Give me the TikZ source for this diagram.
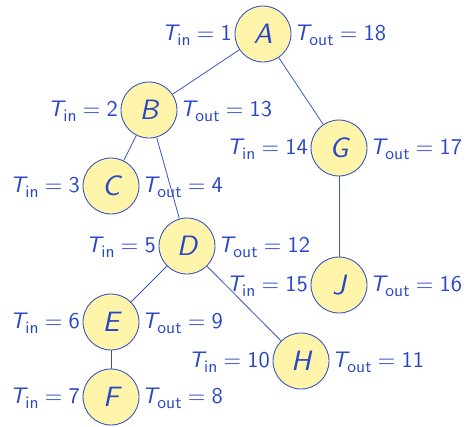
\documentclass[tikz,border=0pt]{standalone}
\usepackage{fontspec}
\setsansfont{lmsans10-regular.otf}[ItalicFont=lmsans10-oblique.otf]
\definecolor{txtblue}{RGB}{40,70,200}
\definecolor{nodefill}{RGB}{255,245,170}
\definecolor{nodeborder}{RGB}{55,85,195}
\definecolor{lineblue}{RGB}{55,85,195}
\newcommand{\subtxt}[1]{\raisebox{-0.22em}{\fontsize{17.5}{17.5}\selectfont #1}}
\newcommand{\tinlbl}[1]{{\itshape T}\subtxt{in}\hspace{.2778em}=\hspace{.2778em}#1}
\newcommand{\toutlbl}[1]{{\itshape T}\subtxt{out}\hspace{.2778em}=\hspace{.2778em}#1}
\begin{document}
\begin{tikzpicture}[x=1pt,y=-1pt,
  vert/.style={circle, draw=nodeborder, fill=nodefill, line width=0.9pt, minimum size=56pt, inner sep=0pt,
    font=\fontsize{28}{28}\selectfont\sffamily\itshape, text=txtblue},
  lbl/.style={font=\fontsize{22.5}{26}\selectfont\sffamily, text=txtblue, inner sep=2.5pt},
  edge/.style={draw=lineblue, line width=0.8pt}]
\useasboundingbox (0,0) rectangle (468,426);
\node[vert] (A) at (263,34) {A};
\node[vert] (B) at (149,110) {B};
\node[vert] (C) at (111,186) {C};
\node[vert] (G) at (339,148) {G};
\node[vert] (D) at (187,246) {D};
\node[vert] (J) at (339,285) {J};
\node[vert] (E) at (111,322) {E};
\node[vert] (H) at (301,361) {H};
\node[vert] (F) at (111,397) {F};
\foreach \n/\i/\o in {A/1/18, B/2/13, C/3/4, G/14/17, D/5/12, J/15/16, E/6/9, H/10/11, F/7/8}{
  \node[lbl, anchor=base east] (\n in) at ([yshift=-6.5pt]\n.west) {\tinlbl{\i}};
  \node[lbl, anchor=base west] (\n out) at ([yshift=-6.5pt]\n.east) {\toutlbl{\o}};
}
\draw[edge] (A) -- (B);
\draw[edge] (A) -- (G);
\draw[edge] (B) -- (C);
\draw[edge] (B) -- (D);
\draw[edge] (D) -- (E);
\draw[edge] (D) -- (H);
\draw[edge] (E) -- (F);
\draw[edge] (G) -- (J);
\end{tikzpicture}
\end{document}
